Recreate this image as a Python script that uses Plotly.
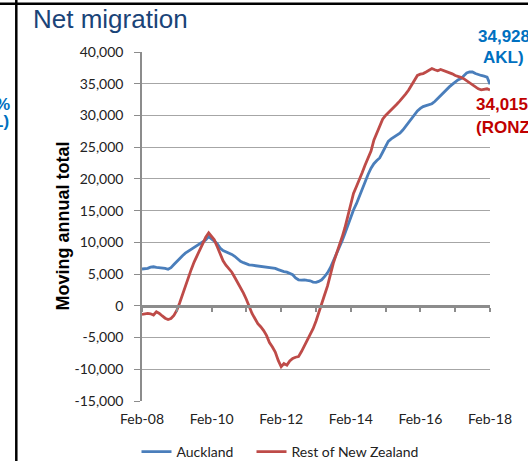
import pandas as pd
import plotly.graph_objects as go

# ---- data (monthly, Feb-2008 .. Feb-2018) ----
start_month = "2008-02-01"
auckland = [
    5800, 5850, 5900, 6100, 6150, 6050, 6000, 6000, 5900, 5750,
    6000, 6500, 7000, 7500, 7900, 8300, 8600, 8900, 9300, 9500,
    9750, 10050, 10400, 10900, 10600, 10200, 9800, 9100, 8700, 8500,
    8350, 8100, 7800, 7400, 7000, 6800, 6600, 6450, 6400, 6350,
    6300, 6250, 6100, 6050, 6100, 6000, 5900, 5700, 5500, 5400,
    5300, 5100, 4900, 4400, 4100, 4050, 4100, 4000, 3950, 3750,
    3700, 3850, 4100, 4600, 5200, 6000, 7000, 8000, 9000, 10200,
    11400, 12700, 14000, 15100, 16100, 17300, 18500, 19600, 20700, 21700,
    22400, 22900, 23300, 24200, 25200, 25900, 26300, 26600, 26900, 27200,
    27700, 28300, 28900, 29600, 30200, 30700, 31100, 31400, 31550, 31700,
    31850, 32200, 32700, 33100, 33600, 34100, 34500, 34900, 35300, 35600,
    35800, 36300, 36700, 36850, 36850, 36600, 36400, 36300, 36200, 36050,
    34928,
]
rest_of_nz = [
    -1350, -1250, -1200, -1250, -1450, -950, -1200, -1600, -1950, -2150,
    -2000, -1500, -700, 400, 1800, 3200, 4500, 5700, 6900, 7900,
    9000, 10000, 10800, 11500, 11000, 10400, 9300, 8200, 7100, 6400,
    5900, 5300, 4500, 3700, 3000, 2000, 1000, -200, -1200, -2000,
    -2800, -3300, -3900, -4700, -5800, -6500, -7300, -8600, -9600, -9100,
    -9350, -8700, -8300, -8100, -8000, -7200, -6300, -5500, -4500, -3600,
    -2400, -1000, 300, 1700, 3100, 4900, 6700, 8100, 9300, 10800,
    12300, 14100, 16300, 17700, 18800, 19800, 21000, 22200, 23300, 24400,
    26100, 27300, 28300, 29400, 30000, 30400, 30800, 31300, 31800, 32300,
    32800, 33400, 34000, 34800, 35700, 36300, 36500, 36600, 36850, 37100,
    37400, 37200, 37050, 37250, 37100, 36850, 36700, 36550, 36300, 36200,
    36000, 35800, 35500, 35200, 34800, 34500, 34200, 34050, 34150, 34200,
    34015,
]
tick_years = ["2008", "2009", "2010", "2011", "2012", "2013", "2014", "2015", "2016", "2017", "2018"]
tick_text = ["Feb-08", "", "Feb-10", "", "Feb-12", "", "Feb-14", "", "Feb-16", "", "Feb-18"]
y_ticks = [-15000, -10000, -5000, 0, 5000, 10000, 15000, 20000, 25000, 30000, 35000, 40000]
y_text = ["-15,000", "-10,000", "-5,000", "0", "5,000", "10,000", "15,000", "20,000",
          "25,000", "30,000", "35,000", "40,000"]
series_names = ["Auckland", "Rest of New Zealand"]
akl_label = ["34,928", "AKL)"]
ronz_label = ["34,015", "(RONZ"]
left_label = ["%", "L)"]

dates = pd.date_range(start_month, periods=len(auckland), freq="MS")
tick_vals = [pd.Timestamp(y + "-02-01") for y in tick_years]

W, H = 528, 461
L, R, T, B = 142, 38, 52, 60
pw, ph = W - L - R, H - T - B


def px(x):
    return (x - L) / pw


def py(y):
    return (H - B - y) / ph


BLUE = "#4A7EBB"
RED = "#BE4B48"
FONT = "Lato"

fig = go.Figure()
fig.add_trace(go.Scatter(x=dates, y=auckland, name=series_names[0], mode="lines",
                         line=dict(color=BLUE, width=2.8), legend="legend"))
fig.add_trace(go.Scatter(x=dates, y=rest_of_nz, name=series_names[1], mode="lines",
                         line=dict(color=RED, width=2.8), legend="legend2"))
# invisible trace for the axis drawn through zero
fig.add_trace(go.Scatter(x=dates, y=auckland, xaxis="x2", showlegend=False,
                         mode="lines", line=dict(width=0), hoverinfo="skip", opacity=0))

xrange = [dates[0], dates[-1]]
leg_font = dict(family=FONT, size=14, color="#222222")
fig.update_layout(
    width=W, height=H,
    margin=dict(l=L, r=R, t=T, b=B, autoexpand=False),
    paper_bgcolor="white", plot_bgcolor="white",
    font=dict(family=FONT, size=14, color="#222222"),
    xaxis=dict(range=xrange, tickvals=tick_vals, ticktext=tick_text, showgrid=False,
               zeroline=False, showline=False, ticks="", ticklabelstandoff=8,
               tickfont=dict(family=FONT, size=14, color="#222222")),
    xaxis2=dict(range=xrange, overlaying="x", anchor="free",
                position=(0 - y_ticks[0]) / (y_ticks[-1] - y_ticks[0]),
                tickvals=tick_vals, showticklabels=False, ticks="outside", ticklen=4,
                tickwidth=2, tickcolor="#8C8C8C", showline=True, linecolor="#8C8C8C",
                linewidth=3, showgrid=False, zeroline=False),
    yaxis=dict(range=[y_ticks[0], y_ticks[-1]], tickvals=y_ticks, ticktext=y_text,
               showgrid=True, gridcolor="#A6A6A6", gridwidth=1.3, zeroline=False,
               showline=True, linecolor="#8C8C8C", linewidth=1.5,
               ticks="outside", ticklen=6, tickcolor="#8C8C8C", ticklabelstandoff=8,
               tickfont=dict(family=FONT, size=14, color="#222222")),
    legend=dict(orientation="h", x=px(136.5), xanchor="left", y=py(452), yanchor="middle",
                font=leg_font, bgcolor="rgba(0,0,0,0)", itemwidth=30),
    legend2=dict(orientation="h", x=px(251.5), xanchor="left", y=py(452), yanchor="middle",
                 font=leg_font, bgcolor="rgba(0,0,0,0)", itemwidth=30),
    showlegend=True,
)

fig.add_annotation(text="Net migration", xref="paper", yref="paper", x=px(31), y=py(19),
                   xanchor="left", yanchor="middle", showarrow=False,
                   font=dict(family="Liberation Sans", size=26, color="#1A4478"))
fig.add_annotation(text="<b>Moving annual total</b>", xref="paper", yref="paper",
                   x=px(62), y=0.5, textangle=-90, xanchor="center", yanchor="middle",
                   showarrow=False, font=dict(family="Liberation Sans", size=18, color="black"))

lab_font_b = dict(family="Liberation Sans", size=17, color="#0070C0")
lab_font_r = dict(family="Liberation Sans", size=17, color="#C00000")
fig.add_annotation(text="<b>%s</b>" % akl_label[0], xref="paper", yref="paper", x=px(476),
                   y=py(36), xanchor="left", yanchor="middle", showarrow=False, font=lab_font_b)
fig.add_annotation(text="<b>%s</b>" % akl_label[1], xref="paper", yref="paper", x=px(526),
                   y=py(58), xanchor="right", yanchor="middle", showarrow=False, font=lab_font_b)
fig.add_annotation(text="<b>%s</b>" % ronz_label[0], xref="paper", yref="paper", x=px(474),
                   y=py(104), xanchor="left", yanchor="middle", showarrow=False, font=lab_font_r)
fig.add_annotation(text="<b>%s</b>" % ronz_label[1], xref="paper", yref="paper", x=px(474),
                   y=py(127), xanchor="left", yanchor="middle", showarrow=False, font=lab_font_r)
fig.add_annotation(text="<b>%s</b>" % left_label[0], xref="paper", yref="paper", x=px(12),
                   y=py(104), xanchor="right", yanchor="middle", showarrow=False, font=lab_font_b)
fig.add_annotation(text="<b>%s</b>" % left_label[1], xref="paper", yref="paper", x=px(11),
                   y=py(121), xanchor="right", yanchor="middle", showarrow=False, font=lab_font_b)

# slide frame lines
fig.add_shape(type="line", xref="paper", yref="paper", x0=px(16.3), x1=px(16.3), y0=py(0),
              y1=py(H), line=dict(color="black", width=2.5))
fig.add_shape(type="line", xref="paper", yref="paper", x0=px(0), x1=px(W), y0=py(3.8),
              y1=py(3.8), line=dict(color="black", width=2.5))

fig.write_html("out.html", config={"displayModeBar": False},
               post_script="document.body.style.margin='0px';")
